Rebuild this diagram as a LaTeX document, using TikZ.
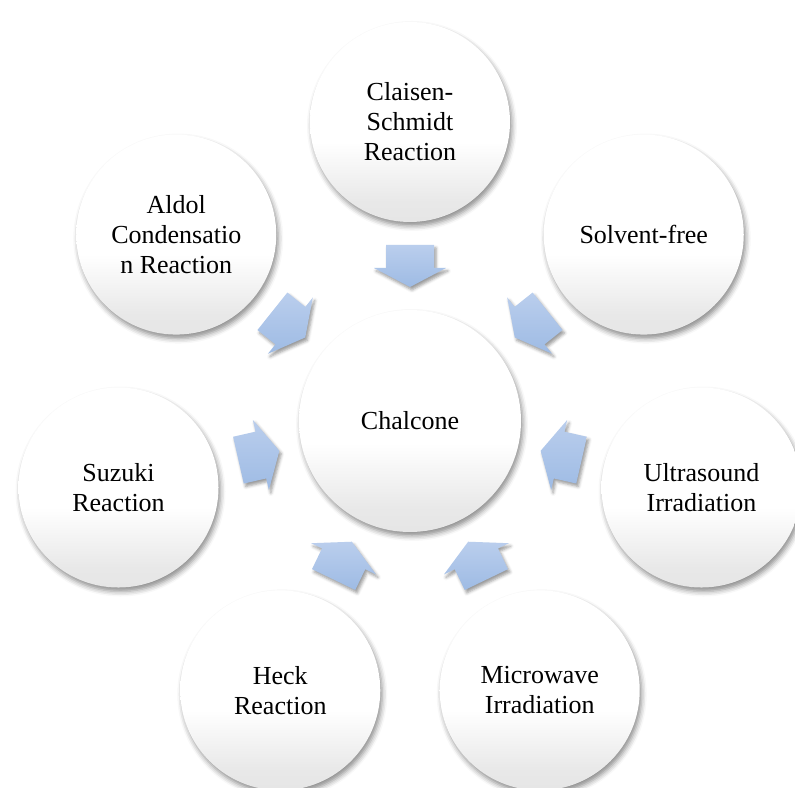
\documentclass[tikz,border=0pt]{standalone}
\usepackage{fontspec}
\setmainfont{Liberation Serif}
\usetikzlibrary{calc,shadows.blur}
\definecolor{arrowtop}{RGB}{186,206,237}
\definecolor{arrowbot}{RGB}{158,187,228}
\pgfdeclareverticalshading{bubbleshade}{100bp}{color(0bp)=(black!14); color(30bp)=(black!9); color(45bp)=(white); color(100bp)=(white)}
\begin{document}
\begin{tikzpicture}[x=1pt,y=1pt,
  bubble/.style={circle, minimum size=200pt, inner sep=0pt, align=center,
    font=\fontsize{26}{30}\selectfont, shading=bubbleshade,
    blur shadow={shadow xshift=2pt, shadow yshift=-4pt, shadow blur radius=5pt, shadow opacity=45}},
  hub/.style={bubble, minimum size=222pt},
  blockarrow/.style={top color=arrowtop, bottom color=arrowbot,
    blur shadow={shadow xshift=2pt, shadow yshift=-3pt, shadow blur radius=3pt, shadow opacity=40}}]
\useasboundingbox (0,0) rectangle (795,787);
\coordinate (C) at (410,366);
% arrows
\foreach \a in {90,38.571,-12.857,-64.286,-115.714,-167.143,141.429}{
  \path[blockarrow, shift={($(C)+(\a:155)$)}, rotate=\a+180]
    (-21,-24) -- (2,-24) -- (2,-36) -- (21,0) -- (2,36) -- (2,24) -- (-21,24) -- cycle;
}
% circles
\node[hub] (chal) at (C) {Chalcone};
\node[bubble] (cs) at ($(C)+(90:299)$) {Claisen-\\Schmidt\\Reaction};
\node[bubble] (sf) at ($(C)+(38.571:299)$) {Solvent-free};
\node[bubble] (us) at ($(C)+(-12.857:299)$) {Ultrasound\\Irradiation};
\node[bubble] (mw) at ($(C)+(-64.286:299)$) {Microwave\\Irradiation};
\node[bubble] (hk) at ($(C)+(-115.714:299)$) {Heck\\Reaction};
\node[bubble] (sz) at ($(C)+(-167.143:299)$) {Suzuki\\Reaction};
\node[bubble] (al) at ($(C)+(141.429:299)$) {Aldol\\Condensatio\\n Reaction};
\end{tikzpicture}
\end{document}
